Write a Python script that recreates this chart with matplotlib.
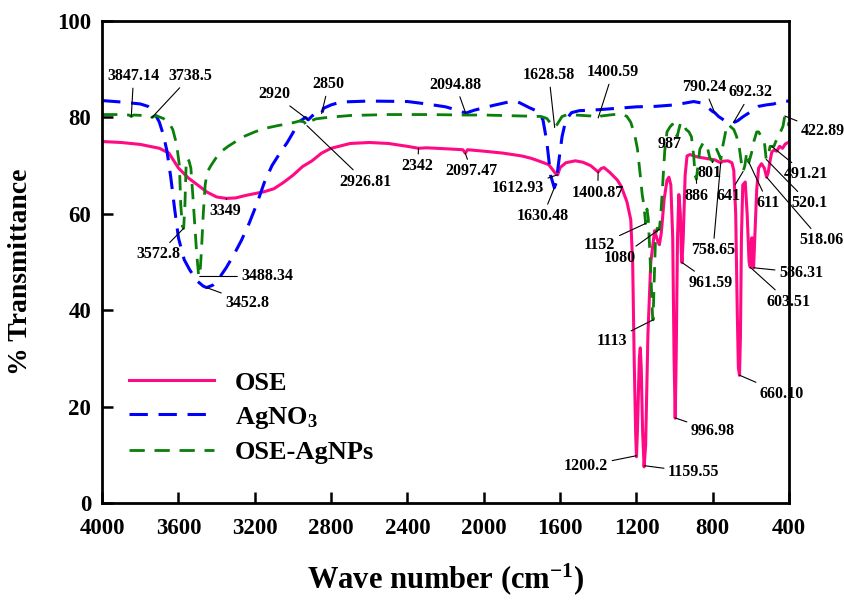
import numpy as np
import matplotlib
matplotlib.use("Agg")
import matplotlib.pyplot as plt

plt.rcParams['font.family'] = 'Liberation Serif'
plt.rcParams['font.weight'] = 'bold'
plt.rcParams['mathtext.fontset'] = 'custom'
plt.rcParams['mathtext.rm'] = 'Liberation Serif:bold'
plt.rcParams['mathtext.it'] = 'Liberation Serif:bold'
plt.rcParams['mathtext.bf'] = 'Liberation Serif:bold'

# ---- FTIR spectra (wavenumber cm-1, % transmittance) ----
ose_wn = [4000, 3900, 3800, 3700, 3650, 3600, 3550, 3500, 3450, 3400, 3349, 3300,
          3250, 3200, 3150, 3100, 3050, 3000, 2950, 2900, 2850, 2800, 2700, 2600,
          2500, 2400, 2342, 2300, 2200, 2110, 2097, 2085, 2000, 1900, 1800, 1750,
          1700, 1660, 1640, 1625, 1613, 1600, 1570, 1520, 1480, 1440, 1410, 1401,
          1385, 1370, 1340, 1300, 1280, 1250, 1230, 1220, 1212, 1204, 1200, 1195,
          1185, 1180, 1175, 1168, 1160, 1152, 1140, 1125, 1105, 1090, 1080, 1070,
          1055, 1040, 1030, 1020, 1010, 1003, 997, 992, 985, 978, 970, 965,
          961.6, 955, 945, 935, 920, 880, 850, 820, 790, 758.6, 750, 720,
          700, 690, 680, 672, 666, 660, 655, 650, 643, 630, 620, 610,
          603.5, 597, 592, 586.3, 580, 570, 560, 545, 530, 518, 510, 500,
          491, 480, 465, 450, 435, 420, 400]
ose_t = [75.0, 74.8, 74.4, 73.6, 72.6, 69.5, 67.5, 66.0, 64.5, 63.5, 63.2, 63.3,
         63.8, 64.2, 64.6, 65.2, 66.5, 68.0, 69.8, 71.0, 72.6, 73.6, 74.6, 74.8,
         74.6, 74.0, 73.6, 73.7, 73.5, 73.3, 72.6, 73.3, 73.0, 72.6, 72.0, 71.5,
         70.8, 70.2, 69.2, 68.4, 68.1, 69.6, 70.6, 71.0, 70.7, 70.0, 69.0, 68.7,
         69.4, 69.6, 68.6, 67.0, 65.7, 62.5, 58.8, 50.0, 30.0, 14.0, 9.6, 15.0,
         30.0, 32.2, 28.0, 15.0, 7.5, 12.0, 35.0, 50.0, 56.5, 54.5, 53.6, 56.0,
         63.0, 67.0, 67.6, 66.0, 55.0, 30.0, 17.6, 30.0, 55.0, 64.0, 60.0, 52.0,
         49.9, 55.0, 68.0, 72.0, 72.3, 71.8, 71.6, 71.4, 71.2, 70.6, 70.9, 71.0,
         70.6, 69.0, 60.0, 40.0, 28.0, 26.5, 35.0, 55.0, 66.0, 66.6, 60.0, 50.0,
         48.9, 55.0, 55.0, 48.8, 55.0, 65.0, 69.5, 70.4, 69.5, 67.6, 68.5, 71.0,
         72.8, 73.2, 73.0, 74.0, 73.6, 74.5, 74.9]

agno3_wn = [4000, 3900, 3800, 3760, 3730, 3700, 3680, 3660, 3640, 3620, 3600, 3570,
            3540, 3500, 3470, 3452.8, 3420, 3390, 3350, 3310, 3270, 3230, 3190, 3150,
            3110, 3070, 3030, 2990, 2960, 2935, 2920, 2900, 2870, 2850, 2840, 2800,
            2750, 2600, 2400, 2300, 2200, 2140, 2094.9, 2050, 1950, 1860, 1820, 1760,
            1720, 1690, 1670, 1650, 1630.5, 1620, 1610, 1590, 1570, 1540, 1500, 1400,
            1300, 1200, 1100, 1000, 900, 860, 830, 800, 790, 770, 740, 710,
            692.3, 670, 640, 600, 560, 520, 480, 450, 420, 400]
agno3_t = [83.5, 83.2, 82.8, 82.3, 81.3, 79.0, 76.5, 73.0, 67.5, 61.0, 55.0, 50.5,
           48.3, 46.0, 45.0, 44.7, 45.2, 46.5, 48.8, 51.5, 54.5, 58.0, 62.0, 66.5,
           70.0, 72.5, 74.8, 77.5, 79.3, 80.0, 79.5, 80.3, 81.2, 80.8, 81.9, 82.6,
           83.2, 83.4, 83.3, 82.8, 82.2, 81.5, 80.9, 81.5, 82.5, 83.3, 83.2, 82.0,
           81.3, 79.5, 75.0, 68.0, 65.4, 66.5, 70.0, 76.0, 79.5, 81.0, 81.4, 81.6,
           81.9, 82.2, 82.3, 82.6, 83.3, 83.0, 82.2, 81.2, 81.0, 80.2, 79.4, 79.0,
           78.9, 79.3, 80.2, 81.2, 82.3, 82.6, 82.8, 83.3, 83.5, 83.3]

agnp_wn = [4000, 3900, 3860, 3847.1, 3835, 3780, 3745, 3738.5, 3720, 3680, 3650, 3630,
           3610, 3595, 3588, 3580, 3572.8, 3566, 3560, 3553, 3545, 3535, 3525, 3515,
           3505, 3495, 3488.3, 3480, 3470, 3460, 3450, 3430, 3400, 3380, 3340, 3300,
           3260, 3200, 3150, 3080, 3000, 2960, 2940, 2926.8, 2910, 2880, 2820, 2700,
           2500, 2300, 2100, 2000, 1900, 1800, 1700, 1670, 1650, 1628.6, 1615, 1590,
           1560, 1480, 1440, 1410, 1400.6, 1385, 1320, 1270, 1250, 1230, 1210, 1195,
           1180, 1170, 1162, 1152, 1145, 1138, 1130, 1122, 1116, 1113, 1108, 1100,
           1092, 1080, 1072, 1062, 1052, 1040, 1025, 1012, 1000, 987, 978, 968,
           955, 940, 925, 912, 900, 893, 886, 878, 868, 850, 830, 815,
           801, 790, 780, 770, 758, 748, 738, 728, 718, 705, 690, 675,
           660, 650, 641, 632, 622, 616, 611, 598, 585, 570, 560, 545,
           530, 520.1, 510, 500, 491.2, 480, 470, 458, 445, 432, 422.9, 415,
           405, 400]
agnp_t = [80.6, 80.6, 80.5, 80.2, 80.5, 80.4, 80.3, 80.0, 80.4, 79.8, 79.0, 77.5,
          74.5, 70.0, 62.0, 57.5, 57.0, 62.0, 70.0, 71.5, 71.0, 69.5, 64.0, 58.0,
          52.0, 47.5, 47.0, 52.0, 60.0, 66.0, 68.6, 70.0, 71.8, 72.8, 74.0, 75.0,
          76.0, 77.0, 77.7, 78.3, 78.9, 79.3, 79.0, 78.3, 79.2, 79.7, 80.0, 80.4,
          80.6, 80.6, 80.5, 80.5, 80.4, 80.3, 80.2, 79.8, 78.8, 77.9, 78.6, 80.2,
          80.6, 80.4, 80.3, 80.0, 79.9, 80.3, 80.6, 80.6, 80.2, 79.0, 76.5, 73.5,
          68.0, 64.0, 62.0, 58.0, 61.0, 59.0, 52.0, 45.0, 39.0, 38.0, 45.0, 55.0,
          57.0, 56.8, 60.0, 66.5, 73.0, 77.0, 78.0, 78.6, 77.5, 76.0, 77.5, 79.0,
          78.8, 77.5, 77.0, 76.0, 72.0, 68.0, 67.2, 70.0, 73.4, 74.8, 74.0, 71.5,
          70.9, 72.5, 73.4, 72.5, 71.3, 74.0, 76.0, 78.0, 78.6, 78.0, 77.5, 76.0,
          73.4, 70.5, 68.8, 70.0, 72.8, 71.5, 70.7, 72.5, 75.0, 77.0, 77.0, 76.0,
          75.0, 71.3, 72.0, 74.0, 74.0, 74.0, 75.0, 76.0, 77.0, 78.2, 80.3, 79.5,
          78.5, 79.0]

series_names = ['OSE', 'AgNO$_3$', 'OSE-AgNPs']

# peak labels: text, which spectrum the pointer goes to
peak_labels = ['3847.14', '3738.5', '2920', '2850', '2926.81', '3349', '3572.8',
               '3488.34', '3452.8', '2342', '2097.47', '2094.88', '1628.58',
               '1400.59', '1612.93', '1630.48', '1400.87', '1152', '1080', '1113',
               '987', '886', '801', '758.65', '641', '611', '491.21', '520.1',
               '518.06', '586.31', '603.51', '660.10', '996.98', '1200.2',
               '1159.55', '961.59', '422.89', '790.24', '692.32']
peak_series = [2, 2, 1, 1, 2, 0, 2,
               2, 1, 0, 0, 1, 2,
               2, 0, 1, 0, 2, 2, 2,
               2, 2, 2, 0, 2, 2, 2, 2,
               0, 0, 0, 0, 0, 0,
               0, 0, 2, 1, 1]
# where each label text sits (wavenumber, %T)
label_pos = [(3835, 88.6), (3536, 88.6), (3097, 84.8), (2813, 86.9), (2620, 66.7),
             (3354, 60.5), (3706, 51.6), (3134, 47.0), (3239, 41.6), (2347, 69.9),
             (2064, 68.8), (2148, 86.8), (1659, 88.8), (1324, 89.4), (1822, 65.3),
             (1691, 59.5), (1403, 64.4), (1392, 53.6), (1287, 50.9), (1329, 33.7),
             (1025, 74.4), (883, 63.8), (815, 68.4), (799, 52.4), (720, 63.6),
             (510, 62.2), (311, 68.2), (295, 62.2), (232, 54.5), (337, 47.8),
             (405, 41.8), (437, 22.7), (799, 15.0), (1465, 7.7), (899, 6.4),
             (809, 45.7), (222, 77.1), (846, 86.3), (600, 85.2)]

fig = plt.figure(figsize=(8.44, 6.01), dpi=100)
ax = fig.add_axes([0.121, 0.163, 0.814, 0.802])

spectra = [(np.array(ose_wn), np.array(ose_t)),
           (np.array(agno3_wn), np.array(agno3_t)),
           (np.array(agnp_wn), np.array(agnp_t))]
colors = ['#FF0A84', '#0000FF', '#0A7F0A']

ax.plot(spectra[0][0], spectra[0][1], color=colors[0], lw=2.2, label=series_names[0])
ax.plot(spectra[1][0], spectra[1][1], color=colors[1], lw=2.2,
        dashes=(6, 3.5), label=series_names[1])
ax.plot(spectra[2][0], spectra[2][1], color=colors[2], lw=2.0,
        dashes=(5.5, 3.5), label=series_names[2])

for txt, s, pos in zip(peak_labels, peak_series, label_pos):
    wn = float(txt)
    x, y = spectra[s]
    t = np.interp(wn, x[::-1], y[::-1])
    if txt == '987':
        ax.text(pos[0], pos[1], txt, ha='center', va='center', fontsize=11.5,
                fontweight='bold')
        continue
    ax.annotate(txt, xy=(wn, t), xytext=pos, ha='center', va='center',
                fontsize=11.5, fontweight='bold',
                arrowprops=dict(arrowstyle='-', color='black', lw=0.8,
                                shrinkA=1, shrinkB=0))

ax.set_xlim(4000, 400)
ax.set_ylim(0, 100)
ax.set_xticks(np.arange(4000, 399, -400))
ax.set_yticks(np.arange(0, 101, 20))
ax.tick_params(direction='in', length=8, width=1.8, labelsize=16.5)
ax.tick_params(axis='x', pad=11)
ax.tick_params(axis='y', pad=8)
for sp in ax.spines.values():
    sp.set_linewidth(2.0)

ax.set_xlabel('Wave number (cm$^{-1}$)', fontsize=22, fontweight='bold', labelpad=16)
ax.set_ylabel('% Transmittance', fontsize=20, fontweight='bold')
ax.yaxis.set_label_coords(-0.100, 0.48)

ax.legend(loc='upper left', bbox_to_anchor=(0.005, 0.323), frameon=False,
          fontsize=19, handlelength=3.2, labelspacing=0.38, handletextpad=0.8)

fig.savefig('out.png', dpi=100)
